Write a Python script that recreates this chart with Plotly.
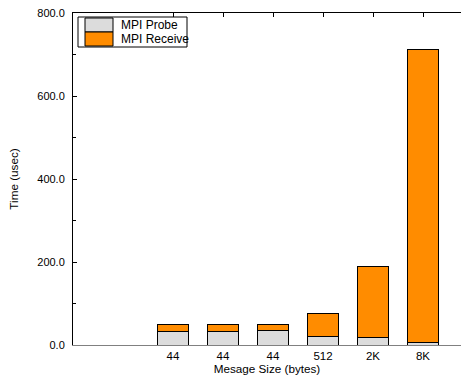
import plotly.graph_objects as go

categories = ["44", "44", "44", "512", "2K", "8K"]
positions = [2, 3, 4, 5, 6, 7]
probe = [32, 32, 34, 20, 18, 7]
receive = [18, 18, 16, 55, 172, 706]
series_names = ["MPI Probe", "MPI Receive"]
series_colors = ["#dcdcdc", "#ff8c00"]
y_ticks = [0, 200, 400, 600, 800]

W, H = 461, 377
L, R, T, B = 73, 0, 13, 32
PW, PH = W - L - R, H - T - B

def px(x):
    return (x - L) / PW

def py(y):
    return 1 - (y - T) / PH

fig = go.Figure()
for name, vals, col in zip(series_names, [probe, receive], series_colors):
    fig.add_trace(go.Bar(x=positions, y=vals, name=name, width=0.62, showlegend=False,
                         marker=dict(color=col, line=dict(color="black", width=1))))

# invisible trace to activate the top axis
fig.add_trace(go.Scatter(x=[0], y=[0], xaxis="x2", mode="markers",
                         marker=dict(opacity=0), showlegend=False, hoverinfo="skip"))

# manual legend (box, swatches, labels)
shapes = [dict(type="rect", xref="paper", yref="paper", x0=px(78), x1=px(187),
               y0=py(47), y1=py(17), line=dict(color="black", width=1), fillcolor="white", layer="above")]
annotations = []
for i, (name, col) in enumerate(zip(series_names, series_colors)):
    top = 18 + 14 * i
    shapes.append(dict(type="rect", xref="paper", yref="paper", x0=px(85), x1=px(113),
                       y0=py(top + 14), y1=py(top), line=dict(color="black", width=1),
                       fillcolor=col, layer="above"))
    annotations.append(dict(xref="paper", yref="paper", x=px(119), y=py(top + 7),
                            xanchor="left", yanchor="middle", text=name, showarrow=False,
                            font=dict(size=12)))

fig.update_layout(
    barmode="stack",
    width=W, height=H,
    margin=dict(l=L, r=R, t=T, b=B, autoexpand=False),
    paper_bgcolor="white", plot_bgcolor="white",
    font=dict(family="Liberation Sans, Arial, sans-serif", size=11, color="black"),
    showlegend=False,
    shapes=shapes, annotations=annotations,
    xaxis=dict(range=[0, 7.76], tickvals=positions, ticktext=categories,
               showline=True, linecolor="#808080", linewidth=1, ticks="",
               showgrid=False, zeroline=False, tickfont=dict(size=11.5),
               title=dict(text="Mesage Size (bytes)", standoff=2, font=dict(size=11.7))),
    xaxis2=dict(range=[0, 7.76], overlaying="x", side="top", tickvals=positions,
                showticklabels=False, ticks="inside", ticklen=4, tickcolor="black",
                showline=True, linecolor="black", linewidth=1, showgrid=False,
                zeroline=False),
    yaxis=dict(range=[0, 800], tickvals=y_ticks, tickformat=".1f",
               showline=True, linecolor="black", linewidth=1,
               ticks="inside", ticklen=4, tickcolor="black", ticklabelstandoff=5,
               minor=dict(tickvals=[100, 300, 500, 700], ticks="inside", ticklen=3, tickcolor="black"),
               showgrid=False, zeroline=False,
               title=dict(text="Time (usec)", standoff=16, font=dict(size=11.7))),
)

fig.write_html("out.html", config={"displayModeBar": False},
               post_script="document.body.style.margin='0';document.body.style.overflow='hidden';")
